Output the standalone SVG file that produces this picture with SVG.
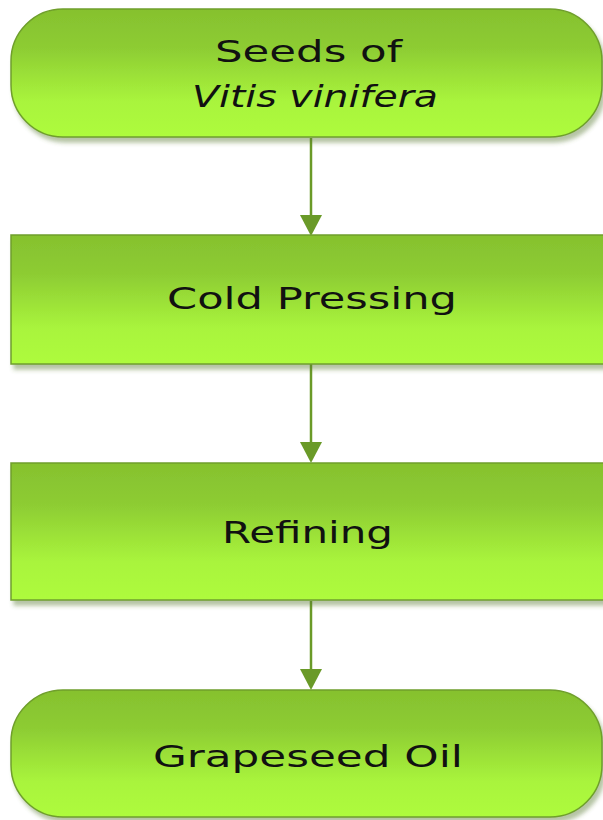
<svg xmlns="http://www.w3.org/2000/svg" width="603" height="820" viewBox="0 0 603 820">
<style>
.node{fill:url(#g);stroke:#6f9f2c;stroke-width:1.5;filter:url(#sh)}
.t{font-family:"DejaVu Sans","Liberation Sans",sans-serif;font-size:31px;fill:#111;text-anchor:start}
.conn{stroke:#6a9a28;stroke-width:2.5;fill:none}
.head{fill:#6a9a28}
</style>
<defs>
<linearGradient id="g" x1="0" y1="0" x2="0" y2="1">
<stop offset="0" stop-color="#86c12e"/>
<stop offset="0.3" stop-color="#8dcc33"/>
<stop offset="0.72" stop-color="#a9f43c"/>
<stop offset="1" stop-color="#aefb3e"/>
</linearGradient>
<filter id="sh" x="-5%" y="-10%" width="115%" height="130%">
<feDropShadow dx="3" dy="5" stdDeviation="2" flood-color="#5a7a30" flood-opacity="0.45"/>
</filter>
</defs>
<g id="connectors">
<path class="conn" d="M311,138 V220"/>
<path class="head" d="M300,215 L322,215 L311,236 Z"/>
<path class="conn" d="M311,364 V447"/>
<path class="head" d="M300,442 L322,442 L311,463 Z"/>
<path class="conn" d="M311,601 V674"/>
<path class="head" d="M300,669 L322,669 L311,690 Z"/>
</g>
<g id="seeds">
<rect class="node" x="11" y="9" width="591" height="128" rx="52" ry="52"/>
<text class="t" x="215" y="62" textLength="187" lengthAdjust="spacingAndGlyphs">Seeds of</text>
<text class="t" x="192" y="107" font-style="italic" textLength="246" lengthAdjust="spacingAndGlyphs">Vitis vinifera</text>
</g>
<g id="cold-pressing">
<rect class="node" x="11" y="235" width="600" height="129"/>
<text class="t" x="167" y="309" textLength="290" lengthAdjust="spacingAndGlyphs">Cold Pressing</text>
</g>
<g id="refining">
<rect class="node" x="11" y="463" width="600" height="137"/>
<text class="t" x="222" y="543" textLength="171" lengthAdjust="spacingAndGlyphs">Refining</text>
</g>
<g id="grapeseed-oil">
<rect class="node" x="11" y="690" width="591" height="127" rx="52" ry="52"/>
<text class="t" x="153" y="767" textLength="310" lengthAdjust="spacingAndGlyphs">Grapeseed Oil</text>
</g>
</svg>
